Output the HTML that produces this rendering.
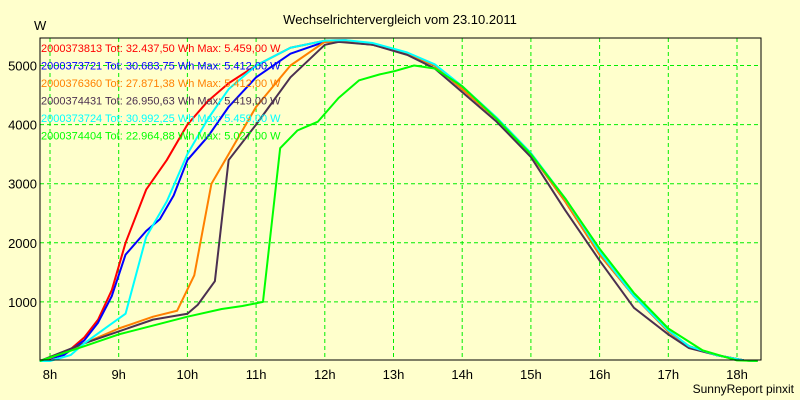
<!DOCTYPE html>
<html><head><meta charset="utf-8"><style>
body{margin:0;background:#FFFFCC;}
svg{display:block;font-family:"Liberation Sans",sans-serif;}
</style></head><body>
<svg id="c" width="800" height="400">
<rect width="800" height="400" fill="#FFFFCC"/>
<text x="400" y="24" font-size="13" text-anchor="middle">Wechselrichtervergleich vom 23.10.2011</text>
<text x="34" y="30" font-size="13">W</text>
<text x="794" y="393" font-size="12" text-anchor="end">SunnyReport pinxit</text>
<g id="grid"></g><g id="series"></g><g id="legend"></g><g id="axes"></g>
</svg>
<script>
const xTicks=[8,9,10,11,12,13,14,15,16,17,18];
const yTicks=[1000,2000,3000,4000,5000];
const names=["2000373813 Tot: 32.437,50 Wh Max: 5.459,00 W","2000373721 Tot: 30.683,75 Wh Max: 5.412,00 W","2000376360 Tot: 27.871,38 Wh Max: 5.412,00 W","2000374431 Tot: 26.950,63 Wh Max: 5.419,00 W","2000373724 Tot: 30.992,25 Wh Max: 5.459,00 W","2000374404 Tot: 22.964,88 Wh Max: 5.027,00 W"];
const colors=["#ff0000","#0000ff","#ff8000","#4b3050","#00ffff","#00ff00"];
const tail=[[12.7,5350],[13.2,5200],[13.6,5000],[14.0,4600],[14.5,4100],[15.0,3500],[15.5,2700],[16.0,1800],[16.5,1100],[17.0,500],[17.3,250],[17.7,100],[18.1,10],[18.3,0]];
const sRed=[[7.85,0],[8.2,100],[8.5,400],[8.7,700],[8.9,1200],[9.1,2000],[9.4,2900],[9.7,3400],[10.0,4000],[10.3,4400],[10.6,4700],[11.0,5000],[11.5,5300],[12.0,5420],[12.3,5430]].concat(tail);
const sBlue=[[7.85,0],[8.2,100],[8.5,350],[8.7,650],[8.9,1100],[9.1,1800],[9.4,2200],[9.6,2400],[9.8,2800],[10.0,3400],[10.3,3800],[10.6,4300],[11.0,4800],[11.5,5200],[12.0,5400],[12.3,5400]].concat(tail);
const sOrange=[[7.85,0],[8.0,50],[8.5,300],[9.0,550],[9.5,750],[9.85,850],[10.1,1450],[10.35,3000],[10.7,3700],[11.0,4300],[11.5,5000],[12.0,5400],[12.3,5400]].concat(tail);
const sPurple=[[7.85,0],[8.5,300],[9.0,500],[9.5,700],[10.0,800],[10.15,950],[10.4,1350],[10.6,3400],[11.0,4000],[11.5,4800],[12.0,5350],[12.2,5400],[12.7,5350],[13.2,5180],[13.6,4950],[14.0,4550],[14.5,4050],[15.0,3450],[15.5,2550],[16.0,1700],[16.5,900],[17.0,450],[17.3,220],[17.7,100],[18.1,10],[18.3,0]];
const sCyan=[[7.85,0],[8.0,0],[8.3,100],[8.5,300],[8.8,550],[9.1,800],[9.4,2100],[9.7,2700],[10.0,3500],[10.3,4100],[10.6,4600],[11.0,5000],[11.5,5300],[12.0,5420],[12.3,5430],[12.7,5380],[13.2,5220],[13.6,5020],[14.0,4650],[14.5,4120],[15.0,3520],[15.5,2750],[16.0,1850],[16.5,1100],[17.0,520],[17.3,250],[17.7,100],[18.1,10],[18.3,0]];
const sGreen=[[7.85,0],[8.5,250],[9.0,450],[9.5,600],[10.0,750],[10.5,880],[10.8,930],[11.1,1000],[11.35,3600],[11.6,3900],[11.9,4050],[12.2,4450],[12.5,4750],[12.8,4850],[13.0,4900],[13.3,5000],[13.6,4950],[14.0,4650],[14.5,4100],[15.0,3500],[15.5,2750],[16.0,1900],[16.5,1150],[17.0,550],[17.5,180],[18.0,10],[18.3,0]];
const data=[sRed,sBlue,sOrange,sPurple,sCyan,sGreen];
const L=40,R=761,T=38,B=360;
const xs=h=>50+(h-8)*68.7;
const ys=v=>361-v*0.0591;
const NS="http://www.w3.org/2000/svg";
function mk(t,a,p){const e=document.createElementNS(NS,t);for(const k in a)e.setAttribute(k,a[k]);p.appendChild(e);return e;}
const g=document.getElementById('grid'),s=document.getElementById('series'),lg=document.getElementById('legend'),ax=document.getElementById('axes');
for(const h of xTicks){const x=xs(h);
const l=mk('line',{x1:x,x2:x,y1:T,y2:B,stroke:'#00ee00','stroke-dasharray':'4,3'},g);


const t=mk('text',{x:x,y:379,'font-size':13,'text-anchor':'middle'},ax);t.textContent=h+'h';

}
for(const v of yTicks){const y=ys(v);
const l=mk('line',{x1:L,x2:R,y1:y,y2:y,stroke:'#00ee00','stroke-dasharray':'4,3'},g);


const t=mk('text',{x:L-3,y:y+5,'font-size':13,'text-anchor':'end'},ax);t.textContent=v;

}
const fr=mk('rect',{x:L,y:T,width:R-L,height:B-T,fill:'none',stroke:'#000'},ax);


data.forEach((d,i)=>{
const p=mk('polyline',{points:d.map(q=>xs(q[0])+','+ys(q[1])).join(' '),fill:'none',stroke:colors[i],'stroke-width':2,'stroke-linejoin':'round'},s);


const t=mk('text',{x:41,y:52+i*17.5,'font-size':11,fill:colors[i]},lg);t.textContent=names[i];


});
</script>
</body></html>
